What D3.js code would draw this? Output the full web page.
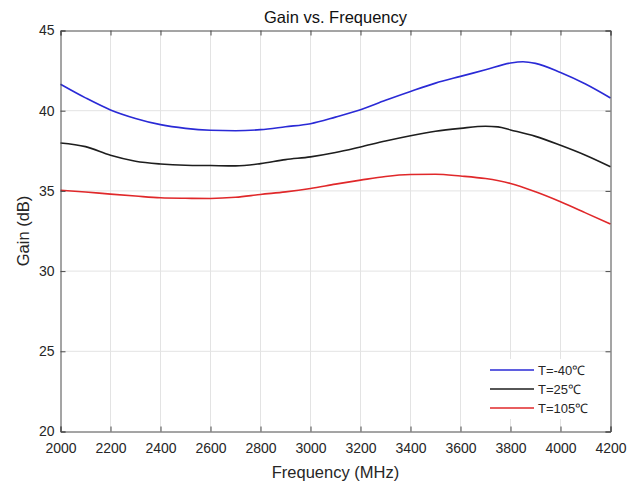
<!DOCTYPE html>
<html>
<head>
<meta charset="utf-8">
<script src="https://cdn.jsdelivr.net/npm/d3@7"></script>
<style>
html,body{margin:0;padding:0;background:#fff;}
svg{display:block;font-family:"Liberation Sans",Arial,Helvetica,sans-serif;}
</style>
</head>
<body>
<svg id="chart" width="638" height="482"></svg>
<script>
const xTicks = [2000,2200,2400,2600,2800,3000,3200,3400,3600,3800,4000,4200];
const yTicks = [20,25,30,35,40,45];
const seriesNames = ["T=-40\u2103","T=25\u2103","T=105\u2103"];
const seriesColors = ["#2a2ad6","#1e1e1e","#e0282a"];

const freqBlue = [2000,2100,2200,2300,2400,2500,2600,2700,2800,2900,3000,3100,3200,3300,3400,3500,3600,3700,3800,3850,3900,4000,4100,4200];
const gainBlue = [41.65,40.8,40.05,39.52,39.13,38.9,38.78,38.75,38.82,39.0,39.19,39.6,40.06,40.65,41.2,41.72,42.14,42.55,42.97,43.05,42.95,42.38,41.66,40.79];

const freqBlack = [2000,2100,2200,2300,2400,2500,2600,2700,2800,2900,3000,3100,3200,3300,3400,3500,3600,3700,3750,3800,3900,4000,4100,4200];
const gainBlack = [37.99,37.76,37.22,36.85,36.68,36.6,36.58,36.56,36.7,36.95,37.12,37.39,37.74,38.11,38.44,38.72,38.9,39.03,38.99,38.8,38.4,37.84,37.22,36.5];

const freqRed = [2000,2100,2200,2300,2400,2500,2600,2700,2800,2900,3000,3100,3200,3300,3400,3500,3600,3700,3800,3900,4000,4100,4200];
const gainRed = [35.04,34.93,34.8,34.68,34.57,34.54,34.53,34.6,34.78,34.94,35.15,35.42,35.67,35.9,36.02,36.04,35.93,35.77,35.46,34.94,34.32,33.63,32.93];

const series = [
  {name: seriesNames[0], color: seriesColors[0], f: freqBlue, g: gainBlue},
  {name: seriesNames[1], color: seriesColors[1], f: freqBlack, g: gainBlack},
  {name: seriesNames[2], color: seriesColors[2], f: freqRed, g: gainRed}
];

const svg = d3.select("#chart");
const L = 60.5, R = 610.5, T = 30.5, B = 431.5;
const x = d3.scaleLinear().domain([2000,4200]).range([L,R]);
const y = d3.scaleLinear().domain([20,45]).range([B,T]);

// grid
const grid = svg.append("g");
grid.selectAll("line.vx").data(xTicks.slice(1,-1)).join("line")
  .attr("x1", d=>x(d)).attr("x2", d=>x(d)).attr("y1", T).attr("y2", B)
  .attr("stroke", "#e3e3e3").attr("stroke-width", 1);
grid.selectAll("line.hy").data(yTicks.slice(1,-1)).join("line")
  .attr("x1", L).attr("x2", R).attr("y1", d=>y(d)).attr("y2", d=>y(d))
  .attr("stroke", "#e3e3e3").attr("stroke-width", 1);

// lines
const line = d3.line().curve(d3.curveMonotoneX).x(d=>x(d[0])).y(d=>y(d[1]));
series.forEach(s => {
  svg.append("path")
    .datum(s.f.map((f,i)=>[f, s.g[i]]))
    .attr("fill","none").attr("stroke", s.color).attr("stroke-width", 1.6)
    .attr("d", line);
});

// axes (MATLAB style, inward ticks on all sides)
const axColor = "#4a4a4a";
const fmt = d3.format("d");
const xb = svg.append("g").attr("transform", `translate(0,${B})`)
  .call(d3.axisBottom(x).tickValues(xTicks).tickSize(-5).tickPadding(9).tickFormat(fmt));
const xt = svg.append("g").attr("transform", `translate(0,${T})`)
  .call(d3.axisTop(x).tickValues(xTicks).tickSize(-5).tickFormat(""));
const yl = svg.append("g").attr("transform", `translate(${L},0)`)
  .call(d3.axisLeft(y).tickValues(yTicks).tickSize(-5).tickPadding(6).tickFormat(fmt));
const yr = svg.append("g").attr("transform", `translate(${R},0)`)
  .call(d3.axisRight(y).tickValues(yTicks).tickSize(-5).tickFormat(""));
[xb,xt,yl,yr].forEach(g => {
  g.select(".domain").attr("stroke", axColor).attr("stroke-width", 1);
  g.selectAll(".tick line").attr("stroke", axColor);
  g.selectAll(".tick text").attr("fill", "#262626")
    .attr("font-family", '"Liberation Sans",Arial,sans-serif').attr("font-size", 14);
});
xb.selectAll(".tick text").attr("dy", "0.9em");

// title & labels
svg.append("text").attr("x", (L+R)/2).attr("y", 23).attr("text-anchor","middle")
  .attr("font-size", 16.5).attr("fill","#111").text("Gain vs. Frequency");
svg.append("text").attr("x", (L+R)/2).attr("y", 478).attr("text-anchor","middle")
  .attr("font-size", 16.5).attr("fill","#262626").text("Frequency (MHz)");
svg.append("text").attr("transform", `translate(29,${(T+B)/2}) rotate(-90)`)
  .attr("text-anchor","middle").attr("font-size", 16.5).attr("fill","#262626").text("Gain (dB)");

// legend
const lg = svg.append("g");
lg.append("rect").attr("x", 484).attr("y", 359).attr("width", 122).attr("height", 60)
  .attr("fill", "#fff");
series.forEach((s,i) => {
  const yy = 370 + i*19;
  lg.append("line").attr("x1", 490).attr("x2", 534).attr("y1", yy).attr("y2", yy)
    .attr("stroke", s.color).attr("stroke-width", 1.6);
  lg.append("text").attr("x", 538).attr("y", yy).attr("dy","0.35em")
    .attr("font-size", 13).attr("fill","#262626").text(s.name);
});
</script>
</body>
</html>
